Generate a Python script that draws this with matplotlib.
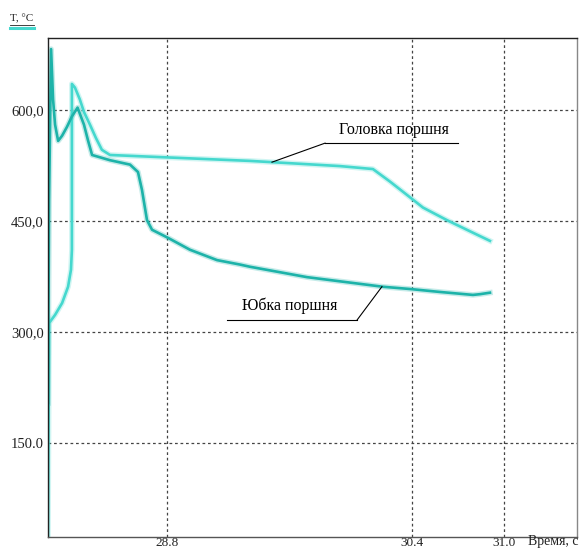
import numpy as np
import matplotlib.pyplot as plt
from matplotlib.lines import Line2D

plt.rcParams['font.family'] = ['Liberation Serif', 'DejaVu Serif']

# юбка поршня: время (с) и температура (°C)
t_skirt = [28.021, 28.028, 28.041, 28.054, 28.067, 28.087, 28.113, 28.145, 28.177,
           28.214, 28.256, 28.282, 28.309, 28.425, 28.557, 28.609, 28.635, 28.668,
           28.701, 28.806, 28.949, 29.126, 29.276, 29.342, 29.714, 30.211, 30.387,
           30.583, 30.799, 30.845, 30.910]
T_skirt = [204, 478, 682, 614, 580, 558, 565, 577, 591,
           603, 580, 559, 539, 532, 526, 516, 492, 451,
           438, 427, 411, 397, 391, 388, 374, 361, 358,
           354, 350, 351, 353]

# головка поршня
t_head = [28.021, 28.028, 28.067, 28.113, 28.152, 28.171, 28.177, 28.177, 28.197,
          28.229, 28.256, 28.295, 28.334, 28.373, 28.426, 29.342, 29.930, 30.145,
          30.257, 30.368, 30.472, 30.629, 30.799, 30.910]
T_head = [25, 312, 323, 339, 361, 384, 411, 635, 630,
          614, 597, 580, 562, 546, 539, 531, 524, 520,
          503, 485, 468, 451, 434, 423]

x_ticks = [28.8, 30.4, 31.0]
x_labels = ['28.8', '30.4', '31.0']
y_ticks = [150, 300, 450, 600]
y_labels = ['150.0', '300,0', '450,0', '600,0']

c_head = '#45d8ce'
c_skirt = '#1db3a9'

fig = plt.figure(figsize=(5.8, 5.5), dpi=100)
ax = fig.add_axes([0.0828, 0.0236, 0.912, 0.9073])

# мягкий ореол под линиями
ax.plot(t_head, T_head, color=c_head, lw=4.0, alpha=0.25, solid_joinstyle='round')
ax.plot(t_skirt, T_skirt, color=c_skirt, lw=4.0, alpha=0.25, solid_joinstyle='round')
ax.plot(t_head, T_head, color=c_head, lw=1.9, solid_joinstyle='round')
ax.plot(t_skirt, T_skirt, color=c_skirt, lw=1.9, solid_joinstyle='round')

ax.set_xlim(28.021, 31.479)
ax.set_ylim(23, 697)

ax.set_xticks(x_ticks)
ax.set_xticklabels(x_labels)
ax.set_yticks(y_ticks)
ax.set_yticklabels(y_labels)
ax.tick_params(length=0, labelsize=10.5, colors='#222')
ax.tick_params(axis='x', pad=0, labelsize=9.5)
ax.tick_params(axis='y', pad=3)

ax.grid(True, color='#444', lw=0.9, linestyle=(0, (2.2, 2.2)))
ax.set_axisbelow(True)

ax.spines['left'].set_color('#222')
ax.spines['top'].set_color('#222')
ax.spines['bottom'].set_color('#555')
ax.spines['right'].set_color('#888')
for s in ax.spines.values():
    s.set_linewidth(1.0)

# подписи кривых с выносками
t_a = 29.485
T_a = np.interp(t_a, t_head, T_head)
ax.plot([t_a, 29.832], [T_a, 555], color='black', lw=0.8)
ax.plot([29.832, 30.701], [555, 555], color='black', lw=0.8)
ax.text(30.283, 573, 'Головка поршня', ha='center', va='center', fontsize=11.5)

t_b = 30.204
T_b = np.interp(t_b, t_skirt, T_skirt)
ax.plot([t_b, 30.041], [T_b, 316], color='black', lw=0.8)
ax.plot([29.191, 30.041], [316, 316], color='black', lw=0.8)
ax.text(29.603, 336, 'Юбка поршня', ha='center', va='center', fontsize=11.5)

# подпись оси Y с подчёркиванием
fig.text(0.038, 0.966, 'T, °C', ha='center', va='center', fontsize=8, color='#222')
fig.add_artist(Line2D([0.018, 0.058], [0.955, 0.955], color='#222', lw=0.6))
fig.add_artist(Line2D([0.018, 0.058], [0.949, 0.949], color=c_head, lw=2.2))

fig.text(0.997, 0.004, 'Время, с', ha='right', va='bottom', fontsize=10, color='#222')

fig.savefig('out.png', dpi=100)
